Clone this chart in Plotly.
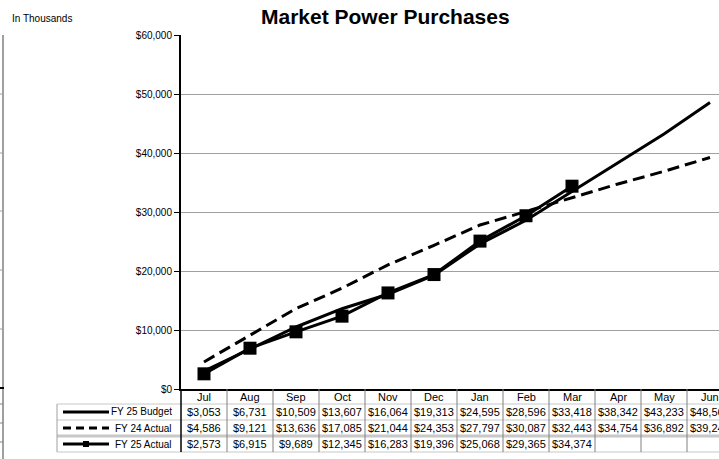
import plotly.graph_objects as go

months = ["Jul", "Aug", "Sep", "Oct", "Nov", "Dec", "Jan", "Feb", "Mar", "Apr", "May", "Jun"]
fy25_budget = [3053, 6731, 10509, 13607, 16064, 19313, 24595, 28596, 33418, 38342, 43233, 48560]
fy24_actual = [4586, 9121, 13636, 17085, 21044, 24353, 27797, 30087, 32443, 34754, 36892, 39245]
fy25_actual = [2573, 6915, 9689, 12345, 16283, 19396, 25068, 29365, 34374]

series_names = ["FY 25 Budget", "FY 24 Actual", "FY 25 Actual"]
series_values = [fy25_budget, fy24_actual, fy25_actual]

# page geometry (pixels)
W, H = 719, 459
L, T, B = 181, 35, 389
COL_W = 46.0
PLOT_W = W - L
PLOT_H = B - T


def px_x(px):
    return (px - L) / PLOT_W


def px_y(py):
    return (B - py) / PLOT_H


fig = go.Figure()
fig.add_trace(go.Scatter(x=list(range(12)), y=fy25_budget, mode="lines",
                         line=dict(color="black", width=3), name=series_names[0]))
fig.add_trace(go.Scatter(x=list(range(12)), y=fy24_actual, mode="lines",
                         line=dict(color="black", width=3, dash="12px,6px"), name=series_names[1]))
fig.add_trace(go.Scatter(x=list(range(len(fy25_actual))), y=fy25_actual, mode="lines+markers",
                         line=dict(color="black", width=3),
                         marker=dict(symbol="square", size=13, color="black"),
                         name=series_names[2]))

shapes = []
annotations = []
sans = "Liberation Sans, Arial"
cell_font = dict(family=sans, size=11, color="black")

# data table under the plot
rows_y = [404, 420, 436, 452]
for i, yv in enumerate(rows_y):
    shapes.append(dict(type="line", xref="paper", yref="paper",
                       x0=px_x(57), x1=px_x(W + 20), y0=px_y(yv), y1=px_y(yv),
                       line=dict(color="#c8c8c8", width=3 if i == 2 else 1)))
shapes.append(dict(type="line", xref="paper", yref="paper", x0=px_x(57), x1=px_x(57),
                   y0=px_y(404), y1=px_y(452), line=dict(color="#a0a0a0", width=1)))
shapes.append(dict(type="line", xref="paper", yref="paper", x0=0, x1=0,
                   y0=0, y1=px_y(452), line=dict(color="black", width=1.5)))
for i in range(1, 12):
    xp = px_x(L + COL_W * i)
    shapes.append(dict(type="line", xref="paper", yref="paper", x0=xp, x1=xp,
                       y0=0, y1=px_y(452), line=dict(color="#808080", width=1)))

for i, m in enumerate(months):
    cx = px_x(L + COL_W * (i + 0.5))
    annotations.append(dict(x=cx, y=px_y(397), xref="paper", yref="paper", text=m,
                            showarrow=False, font=cell_font, xanchor="center", yanchor="middle"))

for r, (name, vals) in enumerate(zip(series_names, series_values)):
    cy = px_y(rows_y[r] + 8)
    for i, v in enumerate(vals):
        cx = px_x(L + COL_W * (i + 0.5))
        annotations.append(dict(x=cx, y=cy, xref="paper", yref="paper", text=f"${v:,}",
                                showarrow=False, font=cell_font, xanchor="center", yanchor="middle"))
    annotations.append(dict(x=px_x(174), y=cy, xref="paper", yref="paper", text=name,
                            showarrow=False, font=dict(family=sans, size=10, color="black"),
                            xanchor="right", yanchor="middle"))
    # legend sample
    shapes.append(dict(type="line", xref="paper", yref="paper", x0=px_x(63), x1=px_x(109),
                       y0=cy, y1=cy,
                       line=dict(color="black", width=3, dash="8px,5px" if r == 1 else "solid")))
    if r == 2:
        shapes.append(dict(type="rect", xref="paper", yref="paper", x0=px_x(83), x1=px_x(89),
                           y0=cy - 3 / PLOT_H, y1=cy + 3 / PLOT_H,
                           fillcolor="black", line=dict(width=0)))

# remnant of neighbouring chart at the left edge
shapes.append(dict(type="line", xref="paper", yref="paper", x0=px_x(3), x1=px_x(3),
                   y0=px_y(35), y1=px_y(388), line=dict(color="#a0a0a0", width=2)))
shapes.append(dict(type="line", xref="paper", yref="paper", x0=px_x(3), x1=px_x(3),
                   y0=px_y(388), y1=px_y(459), line=dict(color="#404040", width=1)))
shapes.append(dict(type="line", xref="paper", yref="paper", x0=px_x(0), x1=px_x(4),
                   y0=px_y(388), y1=px_y(388), line=dict(color="black", width=2)))
for gy in [94, 153, 211, 270, 329]:
    shapes.append(dict(type="line", xref="paper", yref="paper", x0=px_x(0), x1=px_x(3),
                       y0=px_y(gy), y1=px_y(gy), line=dict(color="#a0a0a0", width=1)))
for gy in [404, 423, 442]:
    shapes.append(dict(type="line", xref="paper", yref="paper", x0=px_x(0), x1=px_x(3),
                       y0=px_y(gy), y1=px_y(gy), line=dict(color="#808080", width=1)))

annotations.append(dict(x=px_x(10), y=px_y(18), xref="paper", yref="paper", text="In Thousands",
                        showarrow=False, xanchor="left", yanchor="middle",
                        font=dict(family=sans, size=10, color="black")))
annotations.append(dict(x=px_x(385), y=px_y(17), xref="paper", yref="paper",
                        text="<b>Market Power Purchases</b>", showarrow=False,
                        xanchor="center", yanchor="middle",
                        font=dict(family=sans, size=21, color="black")))

fig.update_layout(
    width=W, height=H,
    margin=dict(l=L, r=0, t=T, b=H - B, pad=0),
    paper_bgcolor="white", plot_bgcolor="white",
    showlegend=False,
    shapes=shapes, annotations=annotations,
    xaxis=dict(range=[-0.5, -0.5 + PLOT_W / COL_W], showgrid=False, showticklabels=False,
               zeroline=False, showline=True, linecolor="black", linewidth=2, ticks=""),
    yaxis=dict(range=[0, 60000], dtick=10000, tickprefix="$", tickformat=",d",
               showgrid=True, gridcolor="#a0a0a0", gridwidth=1, zeroline=False,
               showline=True, linecolor="black", linewidth=2,
               ticks="outside", ticklen=5, tickcolor="black",
               tickfont=dict(family=sans, size=10, color="black")),
)

fig.write_html("out.html", config={"displayModeBar": False},
               post_script="document.body.style.margin='0';document.body.style.overflow='hidden';")
